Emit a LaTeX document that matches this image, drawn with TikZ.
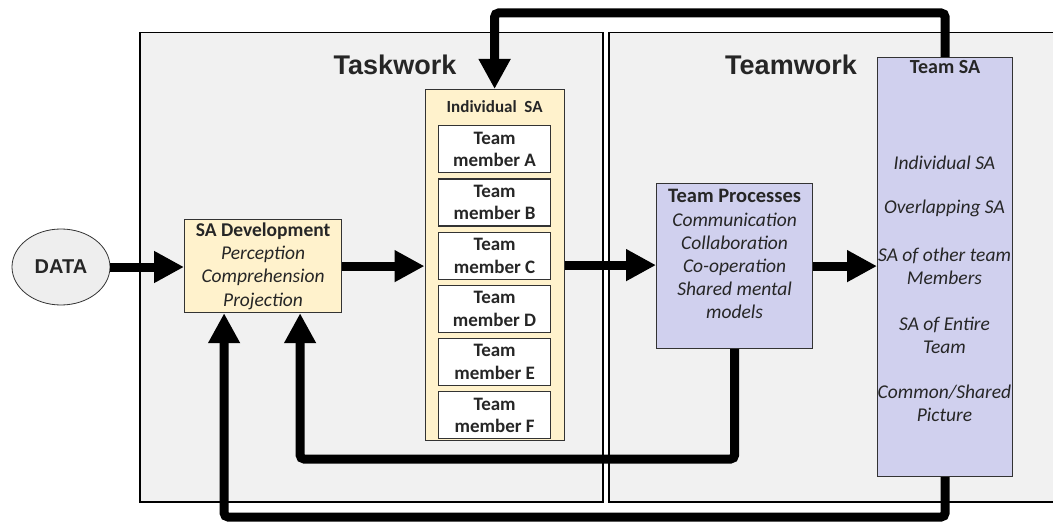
\documentclass[tikz,border=0pt]{standalone}
\usepackage{fontspec}
\setmainfont{Carlito}
\newfontfamily\headfont{Liberation Sans}
\usetikzlibrary{arrows.meta,positioning,shapes.geometric}
\definecolor{panelgray}{RGB}{241,241,241}
\definecolor{devyellow}{RGB}{255,242,204}
\definecolor{teamblue}{RGB}{208,208,238}
\definecolor{datagray}{RGB}{238,238,238}
\definecolor{textgray}{RGB}{38,38,38}

\begin{document}
\begin{tikzpicture}[x=1pt,y=-1pt,auto]
\tikzstyle{panel} = [rectangle, draw=black, line width=1.5pt, fill=panelgray,
anchor=north west, inner sep=0pt]
\tikzstyle{paneltitle} = [font=\headfont\bfseries\fontsize{27}{31}\selectfont, text=textgray]

\tikzstyle{block} = [rectangle, draw=black!80, line width=1.2pt, fill=devyellow,
anchor=north west, align=center, inner sep=0pt, text=textgray,
font=\fontsize{19.5}{23.2}\selectfont]
\tikzstyle{member} = [rectangle, draw=black!80, line width=1.2pt, fill=white,
minimum width=112pt, minimum height=47pt, align=center, inner sep=0pt,
text=textgray, font=\bfseries\fontsize{19}{22.5}\selectfont]
\tikzstyle{teambox} = [rectangle, draw=black!80, line width=1.2pt, fill=teamblue,
anchor=north west, inner sep=0pt]
\tikzstyle{item} = [align=center, text=textgray, font=\itshape\fontsize{19.5}{23.2}\selectfont]
\tikzstyle{cloud} = [draw=black!80, thick, ellipse, fill=datagray, minimum width=98pt,
minimum height=76pt, text=textgray, font=\headfont\bfseries\fontsize{20}{24}\selectfont]
\tikzstyle{line} = [draw, line width=9pt, -{Triangle[length=30pt,width=30pt]}, rounded corners=4pt]

\useasboundingbox (0,0) rectangle (1053,524);
\clip (0,0) rectangle (1053,524);

% panels
\node [panel, minimum width=463pt, minimum height=469pt] (taskwork) at (139,32) {};
\node [panel, minimum width=470pt, minimum height=469pt] (teamwork) at (608,32) {};
\node [paneltitle] (tasktitle) at (395,65) {Taskwork};
\node [paneltitle] (teamtitle) at (791,65) {Teamwork};

% input
\node [cloud] (data) at (61,267) {DATA};
\node [block, minimum width=157pt, minimum height=93pt] (sadev) at (184,219)
{\textbf{SA Development}\\ \textit{Perception}\\ \textit{Comprehension}\\ \textit{Projection}};

% individual SA
\node [block, minimum width=139pt, minimum height=351pt] (indiv) at (424.5,89) {};
\node [below=8pt of indiv.north, text=textgray, font=\bfseries\fontsize{17}{20}\selectfont]
(indivtitle) {Individual\ \ SA};
\matrix [row sep=5pt, inner sep=0pt, below=36pt of indiv.north] (members)
{
% member A
\node [member] (memA) {Team\\member A}; \\
% member B
\node [member] (memB) {Team\\member B}; \\
% member C
\node [member] (memC) {Team\\member C}; \\
% member D
\node [member] (memD) {Team\\member D}; \\
% member E
\node [member] (memE) {Team\\member E}; \\
% member F
\node [member] (memF) {Team\\member F}; \\
};

% team processes
\node [teambox, minimum width=156pt, minimum height=165pt] (procs) at (656,183) {};
\node [below=3pt of procs.north, item] (procstext)
{{\upshape\bfseries\fontsize{20.5}{23.2}\selectfont Team Processes}\\ Communication\\
Collaboration\\ Co-operation\\ Shared mental\\ models};

% team SA
\node [teambox, minimum width=135pt, minimum height=419pt] (teamsa) at (877,57) {};
\node [below=0pt of teamsa.north, text=textgray, font=\bfseries\fontsize{20}{24}\selectfont]
(teamsatitle) {Team SA};
\foreach \y/\txt [count=\i] in {163/{Individual SA}, 208/{Overlapping SA},
266/{SA of other team\\Members}, 335/{SA of Entire\\Team}, 403/{Common/Shared\\Picture}}
\node [item] (teamsa\i) at (944.5,\y) {\txt};

% connectors
\coordinate (top) at (0,13);
\coordinate (lowA) at (0,459);
\coordinate (lowB) at (0,517);
\tikzstyle{every path}=[line]
\path (data.east) -- (data.east -| sadev.west);
\path (sadev.east) -- (sadev.east -| indiv.west);
\path (indiv.east) -- (indiv.east -| procs.west);
\path (procs.east) -- (procs.east -| teamsa.west);
\path (teamsa.north) -- (teamsa.north |- top) -| (indiv.north);
\path (procs.south) -- (procs.south |- lowA) -| ([xshift=37pt]sadev.south);
\path (teamsa.south) -- (teamsa.south |- lowB) -| ([xshift=-39pt]sadev.south);

\end{tikzpicture}
\end{document}
